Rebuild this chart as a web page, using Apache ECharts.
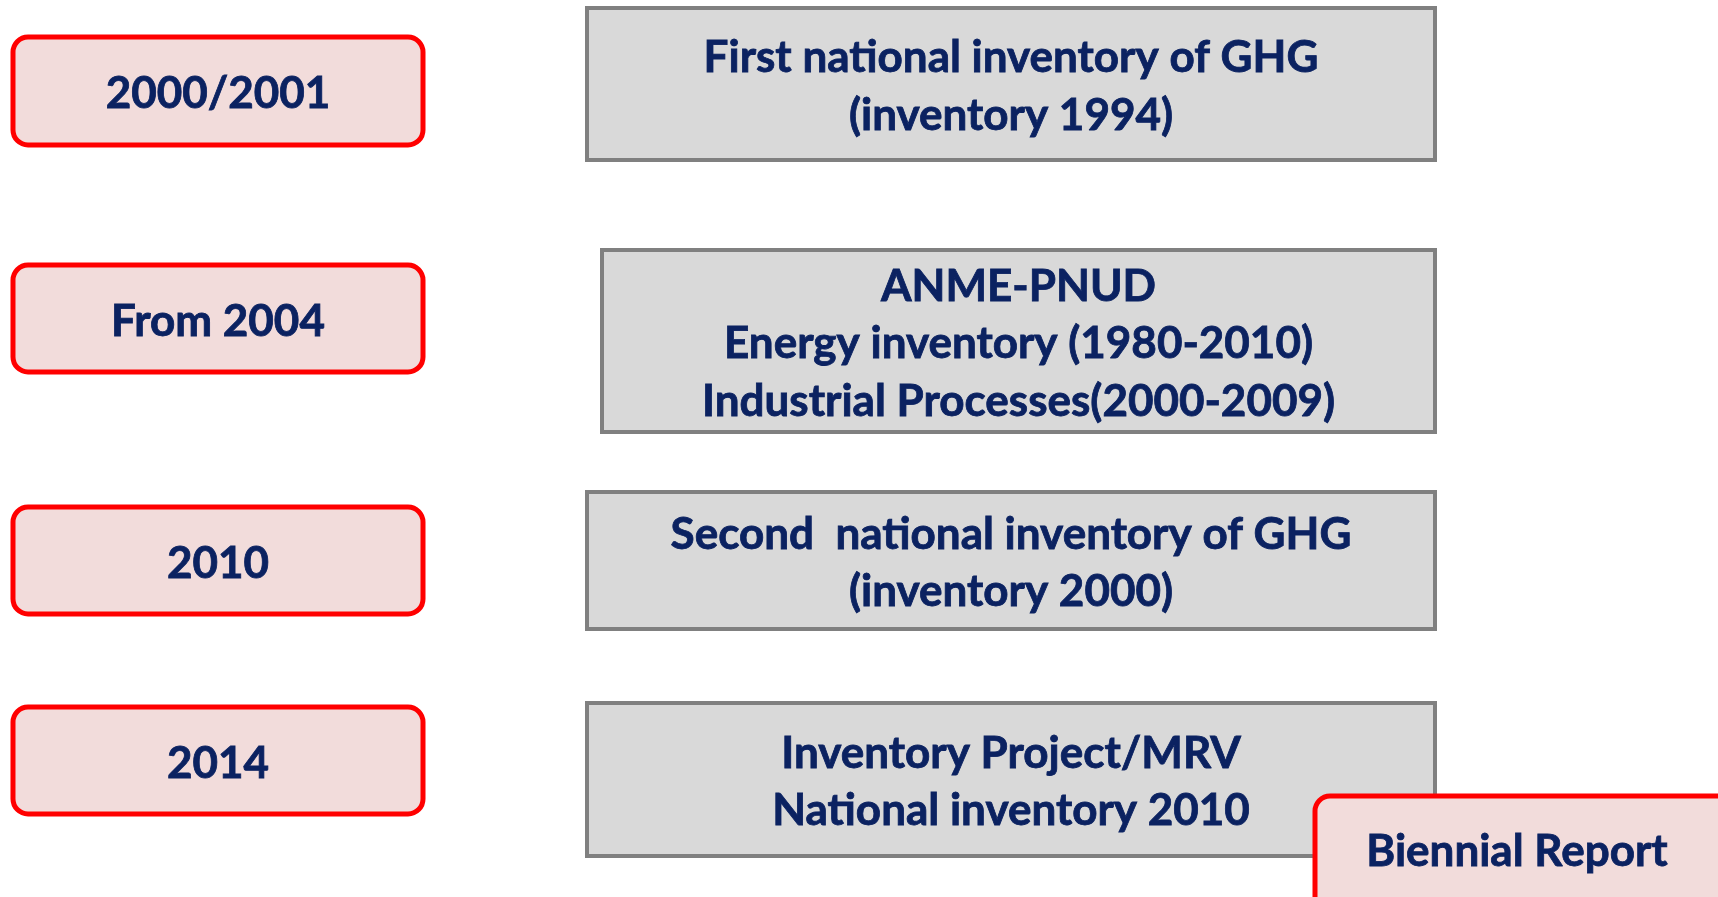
<!DOCTYPE html>
<html>
<head>
<meta charset="utf-8">
<script src="https://cdn.jsdelivr.net/npm/echarts@6/dist/echarts.min.js"></script>
<style>
  html, body { margin: 0; padding: 0; background: #fff; }
  #main { width: 1718px; height: 897px; }
</style>
</head>
<body>
<div id="main"></div>
<script>
// periods on the left, what happened on the right
const periods = ["2000/2001", "From 2004", "2010", "2014"];
const milestones = [
  "First national inventory of GHG\n(inventory 1994)",
  "ANME-PNUD\nEnergy inventory (1980-2010)\nIndustrial Processes(2000-2009)",
  "Second  national inventory of GHG\n(inventory 2000)",
  "Inventory Project/MRV\nNational inventory 2010",
];
const extraNote = "Biennial Report";

// layout (px)
const leftBoxes = [
  [13, 37, 410, 108],
  [13, 265, 410, 107],
  [13, 507, 410, 107],
  [13, 707, 410, 107],
];
const rightBoxes = [
  [587, 8, 848, 152],
  [602, 250, 833, 182],
  [587, 492, 848, 137],
  [587, 703, 848, 153],
];
const noteBox = [1315, 796, 420, 120];

const navy = "#0b2261";
const font = "bold 44px Lato, 'Open Sans', sans-serif";

const chart = echarts.init(document.getElementById("main"));

const pinkBox = (b, label) => [
  {
    type: "rect",
    shape: { x: b[0], y: b[1], width: b[2], height: b[3], r: 15 },
    style: { fill: "#f2dcdb", stroke: "#ff0000", lineWidth: 5 },
    z: 10,
  },
  {
    type: "text",
    x: b[0] + b[2] / 2,
    y: b[1] + b[3] / 2 + 3,
    style: {
      text: label,
      font: font,
      fill: navy,
      stroke: navy,
      lineWidth: 0.8,
      align: "center",
      verticalAlign: "middle",
    },
    z: 11,
  },
];

const greyBox = (b, label) => [
  {
    type: "rect",
    shape: { x: b[0], y: b[1], width: b[2], height: b[3] },
    style: { fill: "#d9d9d9", stroke: "#808080", lineWidth: 4 },
    z: 5,
  },
  {
    type: "text",
    x: b[0] + b[2] / 2,
    y: b[1] + b[3] / 2 + 3,
    style: {
      text: label,
      font: font,
      fill: navy,
      stroke: navy,
      lineWidth: 0.8,
      align: "center",
      verticalAlign: "middle",
      lineHeight: 57.5,
    },
    z: 6,
  },
];

let elements = [];
periods.forEach((p, i) => {
  elements = elements.concat(pinkBox(leftBoxes[i], p));
});
milestones.forEach((m, i) => {
  elements = elements.concat(greyBox(rightBoxes[i], m));
});
// biennial report box sits over the last grey box and runs off the page
const note = pinkBox(noteBox, extraNote);
note[1].x = 1517;
note[1].y = 852;
elements = elements.concat(note);

chart.setOption({
  backgroundColor: "#ffffff",
  animation: false,
  graphic: { elements: elements },
});
</script>
</body>
</html>
